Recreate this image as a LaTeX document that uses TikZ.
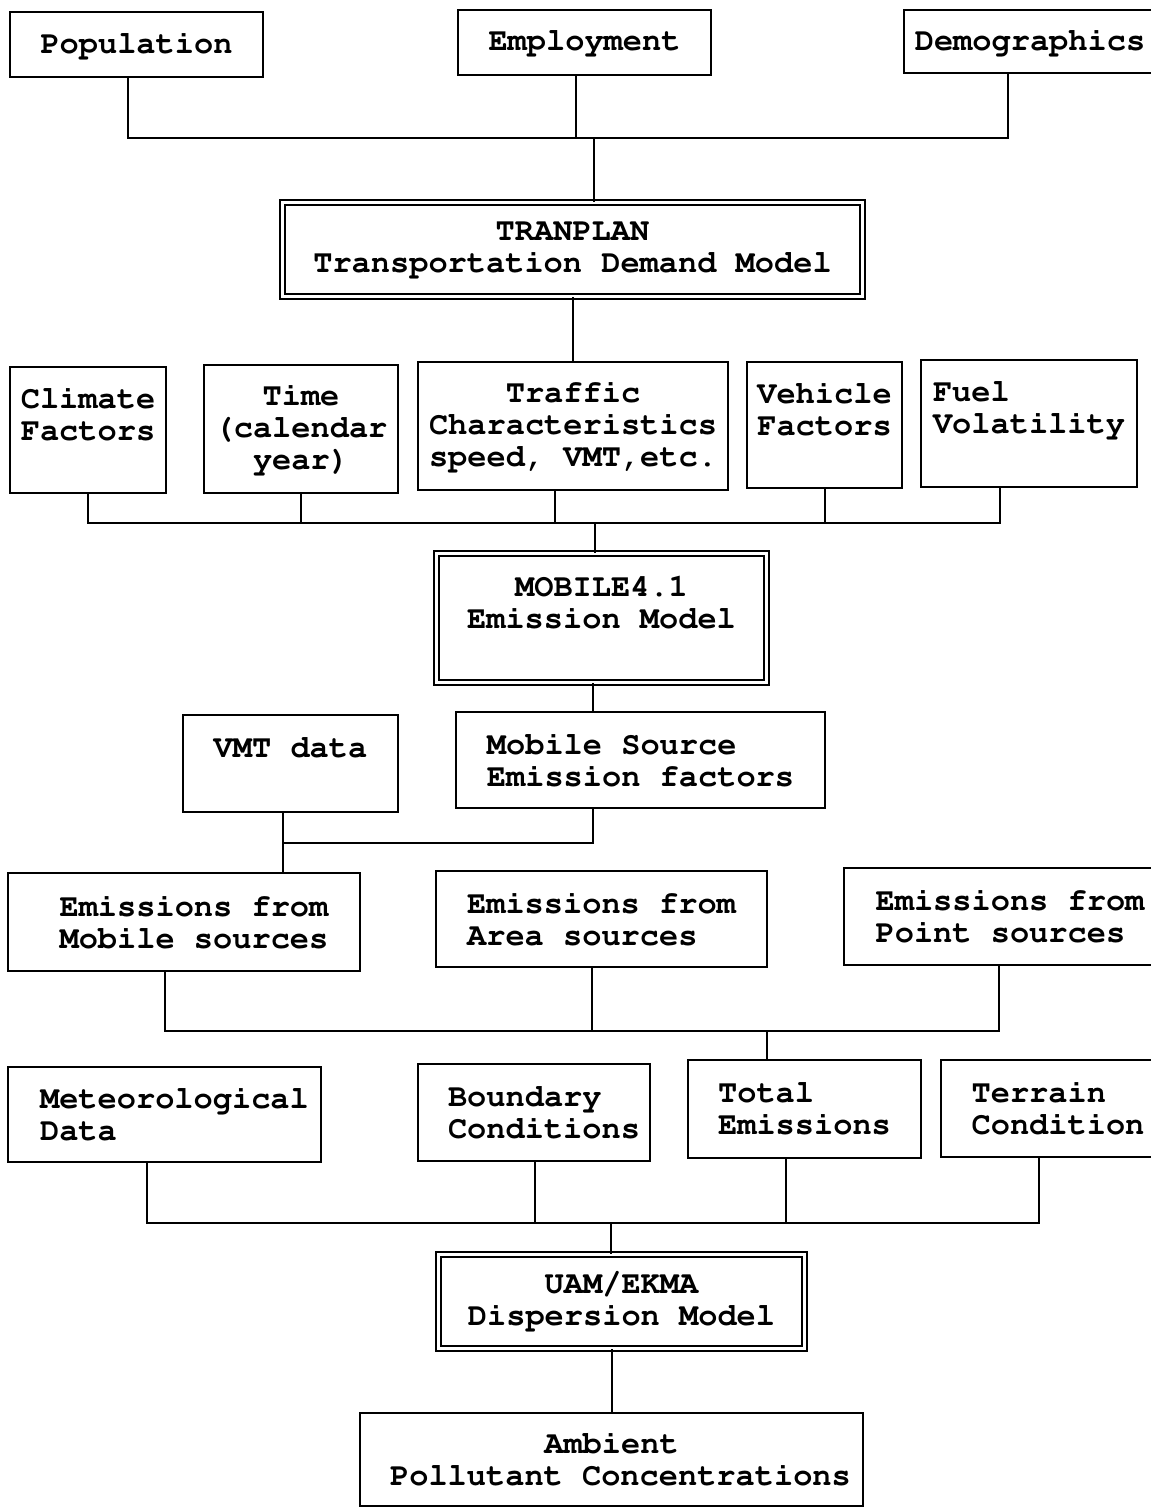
\documentclass[tikz,border=0pt]{standalone}
\usepackage[T1]{fontenc}
\usepackage{courier}
\tikzset{
  box/.style={draw, line width=2.2pt, inner sep=0pt, align=center,
    font=\ttfamily\bfseries\fontsize{32}{32}\selectfont},
  model/.style={box, double, double distance=3.5pt, line width=1.6pt},
  link/.style={line width=2pt}
}

\begin{document}
\begin{tikzpicture}[x=1pt, y=-1pt]
  \useasboundingbox (0,0) rectangle (1151,1508);

  \node[box, minimum width=253pt, minimum height=65pt] (pop) at (136.5,44.5) {Population};
  \node[box, minimum width=253pt, minimum height=65pt] (emp) at (584.5,42.5) {Employment};
  \node[box, minimum width=252pt, minimum height=63pt] (demo) at (1030,41.5) {Demographics};

  \node[model, minimum width=580pt, minimum height=94pt] (tran) at (572.5,249.5)
    {TRANPLAN\\Transportation Demand Model};

  \node[box, minimum width=156pt, minimum height=126pt] (clim) at (88,430) {Climate\\Factors\\~};
  \node[box, minimum width=194pt, minimum height=128pt] (time) at (301,429) {Time\\(calendar\\year)};
  \node[box, minimum width=310pt, minimum height=128pt] (traf) at (573,426)
    {Traffic\\Characteristics\\speed, VMT,etc.};
  \node[box, minimum width=155pt, minimum height=126pt] (veh) at (824.5,425) {Vehicle\\Factors\\~};
  \node[box, align=left, minimum width=216pt, minimum height=127pt] (fuel) at (1029,423.5)
    {Fuel\\Volatility\\~};

  \node[model, minimum width=330pt, minimum height=129pt] (mob) at (601.5,618)
    {MOBILE4.1\\Emission Model\\~};

  \node[box, minimum width=215pt, minimum height=97pt] (vmt) at (290.5,763.5) {VMT data\\~};
  \node[box, align=left, minimum width=369pt, minimum height=96pt] (msef) at (640.5,760)
    {Mobile Source\\Emission factors};

  \node[box, minimum width=352pt, minimum height=98pt] (emob) at (184,922)
    {\hspace*{20pt}Emissions from\\\hspace*{20pt}Mobile sources};
  \node[box, align=left, minimum width=331pt, minimum height=96pt] (earea) at (601.5,919)
    {Emissions from\\Area sources};
  \node[box, align=left, minimum width=332pt, minimum height=97pt] (epnt) at (1010,916.5)
    {Emissions from\\Point sources};

  \node[box, align=left, minimum width=313pt, minimum height=95pt] (met) at (164.5,1114.5)
    {\hspace*{20pt}Meteorological\\\hspace*{20pt}Data};
  \node[box, align=left, minimum width=232pt, minimum height=97pt] (bnd) at (534,1112.5)
    {\hspace*{20pt}Boundary\\\hspace*{20pt}Conditions};
  \node[box, align=left, minimum width=233pt, minimum height=98pt] (tot) at (804.5,1109)
    {Total\\Emissions};
  \node[box, align=left, minimum width=234pt, minimum height=97pt] (terr) at (1058,1108.5)
    {Terrain\\Condition};

  \node[model, minimum width=366pt, minimum height=94pt] (uam) at (621.5,1301.5)
    {UAM/EKMA\\Dispersion Model};
  \node[box, minimum width=503pt, minimum height=93pt] (amb) at (611.5,1459.5)
    {Ambient\\\hspace*{18pt}Pollutant Concentrations};

  \coordinate (j1) at (594,138);
  \draw[link] (pop.south -| 128,0) |- (j1);
  \draw[link] (demo.south -| 1008,0) |- (j1);
  \draw[link] (emp.south -| 576,0) -- (j1 -| 576,0);
  \draw[link] (j1) -- (tran.north -| j1);
  \draw[link] (tran.south -| 573,0) -- (traf.north -| 573,0);

  \coordinate (j2) at (595,523);
  \draw[link] (clim.south) |- (j2);
  \draw[link] (fuel.south -| 1000,0) |- (j2);
  \draw[link] (time.south) -- (time.south |- j2);
  \draw[link] (traf.south -| 555,0) -- (j2 -| 555,0);
  \draw[link] (veh.south -| 825,0) -- (j2 -| 825,0);
  \draw[link] (j2) -- (mob.north -| j2);

  \coordinate (j3) at (283,843);
  \draw[link] (mob.south -| 593,0) -- (msef.north -| 593,0);
  \draw[link] (vmt.south -| 283,0) -- (j3);
  \draw[link] (msef.south -| 593,0) |- (j3);
  \draw[link] (j3) -- (emob.north -| j3);

  \coordinate (j4) at (767,1031);
  \draw[link] (emob.south -| 165,0) |- (j4);
  \draw[link] (epnt.south -| 999,0) |- (j4);
  \draw[link] (earea.south -| 592,0) -- (j4 -| 592,0);
  \draw[link] (j4) -- (tot.north -| j4);

  \coordinate (j5) at (611,1223);
  \draw[link] (met.south -| 147,0) |- (j5);
  \draw[link] (terr.south -| 1039,0) |- (j5);
  \draw[link] (bnd.south -| 535,0) -- (j5 -| 535,0);
  \draw[link] (tot.south -| 786,0) -- (j5 -| 786,0);
  \draw[link] (j5) -- (uam.north -| j5);
  \draw[link] (uam.south -| 612,0) -- (amb.north -| 612,0);
\end{tikzpicture}
\end{document}
